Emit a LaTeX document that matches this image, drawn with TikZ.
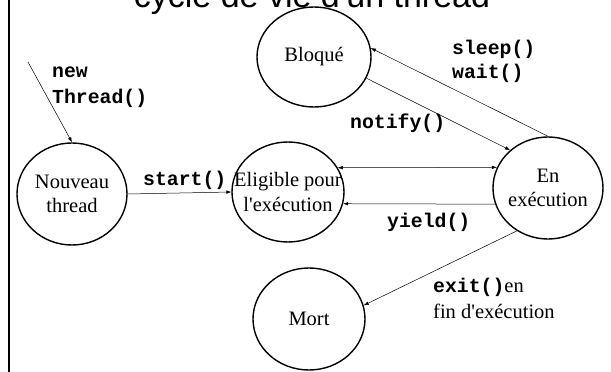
\documentclass[tikz,border=0pt]{standalone}
\usepackage{fontspec}
\setmainfont{Liberation Serif}
\setmonofont{Liberation Mono}
\newfontfamily\titlefont{Liberation Sans}
\usetikzlibrary{shapes.geometric,arrows.meta}

\begin{document}
\begin{tikzpicture}[x=1pt,y=-1pt,
  state/.style 2 args={draw, ellipse, line width=1.4pt, inner sep=0pt,
    minimum width=#1, minimum height=#2},
  statetext/.style={font=\fontsize{20.5}{24.5}\selectfont, align=center, inner sep=0pt},
  code/.style={font=\ttfamily\bfseries\fontsize{19.8}{24}\selectfont, anchor=base west, inner sep=0pt},
  plain/.style={font=\fontsize{20.5}{24}\selectfont, anchor=base west, inner sep=0pt},
  tip/.tip={Latex[length=5pt,width=3.6pt]},
  trans/.style={line width=0.5pt, -tip},
  both/.style={line width=0.5pt, tip-tip},
]
\useasboundingbox (0,0) rectangle (611,372);
\clip (0,0) rectangle (611,372);

% title, partly above the page
\node[font=\titlefont\fontsize{34}{40}\selectfont, anchor=base, inner sep=0pt] (title) at (312,7) {cycle de vie d\textquotesingle un thread};

% left rule
\coordinate (ruletop) at (9,0);
\coordinate (rulebot) at (9,372);
\draw[line width=2pt] (ruletop) -- (rulebot);

% states
\node[state={110pt}{102pt}] (nouveau) at (72,194) {};
\node[statetext] (nouveautext) at (nouveau) {Nouveau\\thread};
\node[state={114pt}{100pt}] (bloque) at (314,57) {};
\node[statetext] (bloquetext) at (bloque) {Bloqué};
\node[state={112pt}{100pt}] (eligible) at (288,192) {};
\node[statetext] (eligibletext) at (eligible) {Eligible pour\\l\textquotesingle exécution};
\node[state={110pt}{102pt}] (encours) at (548,188) {};
\node[statetext] (encourstext) at (encours) {En\\exécution};
\node[state={112pt}{102pt}] (mort) at (309,319) {};
\node[statetext] (morttext) at (mort) {Mort};

% transitions
\coordinate (newsrc) at (28,62);
\draw[trans] (newsrc) -- (nouveau.north);
\draw[trans] (nouveau.east) -- (eligible.west);
\draw[both] (eligible.26) -- (encours.158);
\draw[trans] (encours.197) -- (eligible.-12);
\draw[trans] (encours.north) -- (bloque.9);
\draw[trans] (bloque.-22) -- (encours.135);
\draw[trans] (encours.234) -- (mort.14);

% labels
\node[code] (lnew) at (52,77) {new};
\node[code] (lthread) at (52,103) {Thread()};
\node[code] (lstart) at (143,185) {start()};
\node[code] (lsleep) at (452,54) {sleep()};
\node[code] (lwait) at (452,78) {wait()};
\node[code] (lnotify) at (350,128) {notify()};
\node[code] (lyield) at (387,227) {yield()};
\node[plain] (lexit) at (433,292) {{\ttfamily\bfseries\fontsize{19.8}{24}\selectfont exit()}en};
\node[plain] (lfin) at (433,318) {fin d\textquotesingle exécution};
\end{tikzpicture}
\end{document}
